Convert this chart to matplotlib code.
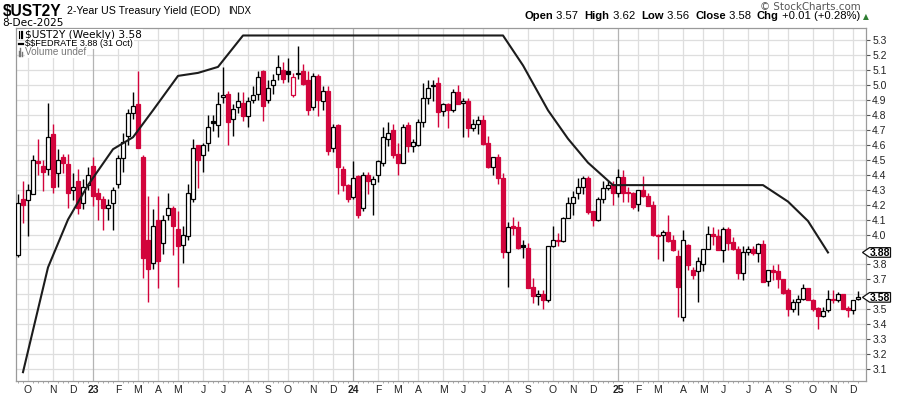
import datetime as dt
import numpy as np
import matplotlib
matplotlib.use('Agg')
import matplotlib.pyplot as plt
import matplotlib.transforms as mtransforms
from matplotlib.patches import Polygon
from matplotlib.offsetbox import TextArea, HPacker, AnchoredOffsetbox

plt.rcParams['font.family'] = ['Liberation Sans', 'DejaVu Sans']
plt.rcParams['text.parse_math'] = False

# ---------------- data ----------------
start_week = dt.date(2022, 9, 19)   # Monday of first weekly bar

opens = [3.86, 4.24, 4.23, 4.27, 4.49, 4.46, 4.44, 4.67, 4.41, 4.52,
         4.47, 4.30, 4.36, 4.21, 4.33, 4.46, 4.28, 4.24, 4.18, 4.21,
         4.34, 4.51, 4.66, 4.81, 4.87, 4.52, 3.96, 3.81, 4.10, 3.94,
         4.13, 4.18, 4.04, 3.93, 3.99, 4.24, 4.60, 4.53, 4.61, 4.76,
         4.73, 4.92, 4.94, 4.77, 4.85, 4.88, 4.79, 4.90, 4.94, 5.09,
         4.90, 5.00, 5.07, 5.10, 5.09, 4.93, 5.07, 5.09, 5.03, 4.85,
         5.06, 4.89, 4.96, 4.575, 4.73, 4.44, 4.33, 4.25, 4.39, 4.18,
         4.40, 4.34, 4.40, 4.48, 4.64, 4.70, 4.54, 4.48, 4.73, 4.59,
         4.60, 4.75, 4.91, 4.99, 5.01, 4.825, 4.87, 4.83, 4.95, 4.877,
         4.89, 4.71, 4.74, 4.765, 4.61, 4.45, 4.515, 4.38, 3.88, 4.055,
         4.05, 3.93, 3.91, 3.65, 3.59, 3.605, 3.56, 3.92, 3.96, 3.955,
         4.11, 4.21, 4.28, 4.32, 4.375, 4.155, 4.10, 4.24, 4.31, 4.33,
         4.28, 4.385, 4.28, 4.28, 4.205, 4.295, 4.255, 4.195, 4.00, 3.995,
         4.02, 3.96, 3.855, 3.45, 3.93, 3.76, 3.755, 3.80, 3.90, 4.005,
         3.99, 3.895, 4.035, 3.95, 3.905, 3.74, 3.88, 3.90, 3.875, 3.935,
         3.69, 3.76, 3.755, 3.70, 3.63, 3.505, 3.55, 3.57, 3.64, 3.565,
         3.51, 3.458, 3.495, 3.57, 3.565, 3.60, 3.51, 3.495, 3.57]
highs = [4.27, 4.36, 4.34, 4.53, 4.64, 4.50, 4.88, 4.74, 4.57, 4.54,
         4.54, 4.41, 4.44, 4.37, 4.45, 4.52, 4.31, 4.26, 4.24, 4.32,
         4.53, 4.68, 4.84, 4.95, 5.09, 4.53, 4.26, 4.17, 4.26, 4.13,
         4.28, 4.19, 4.16, 4.06, 4.34, 4.64, 4.60, 4.61, 4.80, 4.80,
         4.95, 5.12, 4.96, 4.87, 4.95, 4.95, 4.92, 4.99, 5.09, 5.10,
         5.03, 5.07, 5.20, 5.15, 5.18, 5.08, 5.26, 5.14, 5.09, 5.08,
         5.07, 4.99, 4.99, 4.74, 4.74, 4.46, 4.335, 4.49, 4.40, 4.42,
         4.42, 4.39, 4.50, 4.72, 4.75, 4.74, 4.61, 4.74, 4.75, 4.64,
         4.77, 5.01, 5.03, 5.03, 5.05, 4.88, 4.88, 4.97, 5.00, 4.91,
         4.91, 4.77, 4.79, 4.80, 4.66, 4.52, 4.54, 4.41, 4.085, 4.12,
         4.09, 3.96, 3.94, 3.71, 3.63, 3.63, 3.92, 4.06, 4.01, 4.12,
         4.25, 4.29, 4.375, 4.39, 4.39, 4.16, 4.25, 4.36, 4.36, 4.36,
         4.435, 4.43, 4.32, 4.285, 4.30, 4.39, 4.28, 4.225, 4.005, 4.03,
         4.13, 3.995, 3.895, 4.03, 3.935, 3.78, 3.85, 3.905, 4.06, 4.05,
         4.04, 4.05, 4.05, 3.985, 3.92, 3.92, 3.92, 3.92, 3.94, 3.965,
         3.765, 3.795, 3.805, 3.705, 3.64, 3.57, 3.595, 3.67, 3.645, 3.57,
         3.515, 3.515, 3.63, 3.63, 3.615, 3.605, 3.52, 3.565, 3.62]
lows = [3.85, 4.08, 3.99, 4.27, 4.40, 4.29, 4.40, 4.28, 4.32, 4.41,
        4.18, 4.23, 4.14, 4.17, 4.30, 4.19, 4.10, 4.03, 4.10, 4.03,
        4.31, 4.42, 4.60, 4.77, 4.58, 3.71, 3.55, 3.77, 3.64, 3.87,
        4.10, 3.86, 3.65, 3.81, 3.96, 4.22, 4.31, 4.42, 4.56, 4.69,
        4.65, 4.88, 4.60, 4.66, 4.81, 4.76, 4.72, 4.88, 4.90, 4.76,
        4.88, 4.94, 5.03, 5.01, 5.02, 4.92, 5.04, 5.00, 4.80, 4.83,
        4.79, 4.83, 4.53, 4.55, 4.27, 4.29, 4.22, 4.24, 4.11, 4.16,
        4.27, 4.13, 4.35, 4.46, 4.59, 4.51, 4.40, 4.48, 4.55, 4.55,
        4.59, 4.72, 4.87, 4.89, 4.72, 4.79, 4.71, 4.82, 4.87, 4.65,
        4.65, 4.69, 4.67, 4.60, 4.445, 4.40, 4.34, 3.84, 3.65, 4.00,
        3.90, 3.84, 3.64, 3.54, 3.53, 3.50, 3.55, 3.915, 3.92, 3.95,
        4.11, 4.13, 4.24, 4.27, 4.14, 4.06, 4.09, 4.21, 4.30, 4.20,
        4.25, 4.22, 4.22, 4.17, 4.16, 4.25, 4.19, 3.99, 3.835, 3.825,
        3.95, 3.89, 3.45, 3.42, 3.76, 3.705, 3.55, 3.755, 3.90, 3.93,
        3.895, 3.815, 3.895, 3.895, 3.70, 3.695, 3.86, 3.86, 3.815, 3.685,
        3.655, 3.695, 3.645, 3.605, 3.455, 3.485, 3.46, 3.56, 3.56, 3.49,
        3.37, 3.45, 3.48, 3.54, 3.55, 3.50, 3.45, 3.47, 3.56]
closes = [4.21, 4.20, 4.30, 4.50, 4.48, 4.42, 4.65, 4.32, 4.50, 4.48,
          4.28, 4.32, 4.18, 4.32, 4.40, 4.26, 4.24, 4.18, 4.20, 4.30,
          4.51, 4.62, 4.81, 4.86, 4.58, 3.84, 3.77, 4.06, 3.82, 4.10,
          4.18, 4.06, 3.92, 4.00, 4.28, 4.58, 4.50, 4.60, 4.72, 4.745,
          4.87, 4.93, 4.75, 4.84, 4.89, 4.79, 4.89, 4.93, 5.05, 4.86,
          4.98, 5.03, 5.12, 5.04, 5.075, 5.05, 5.08, 5.005, 4.83, 5.06,
          4.90, 4.96, 4.56, 4.72, 4.45, 4.33, 4.24, 4.38, 4.13, 4.40,
          4.36, 4.37, 4.49, 4.65, 4.68, 4.53, 4.48, 4.72, 4.59, 4.62,
          4.75, 4.91, 4.98, 5.00, 4.82, 4.87, 4.83, 4.95, 4.875, 4.89,
          4.71, 4.74, 4.765, 4.605, 4.45, 4.515, 4.38, 3.88, 4.05, 4.045,
          3.91, 3.915, 3.645, 3.59, 3.605, 3.56, 3.92, 3.96, 3.955, 4.11,
          4.21, 4.25, 4.32, 4.375, 4.15, 4.10, 4.24, 4.31, 4.33, 4.28,
          4.385, 4.28, 4.275, 4.185, 4.295, 4.255, 4.19, 3.995, 3.99, 4.02,
          3.955, 3.895, 3.65, 3.965, 3.795, 3.73, 3.82, 3.90, 4.005, 3.99,
          3.895, 4.035, 3.945, 3.905, 3.74, 3.885, 3.90, 3.875, 3.935, 3.685,
          3.76, 3.75, 3.70, 3.61, 3.505, 3.55, 3.57, 3.64, 3.565, 3.50,
          3.455, 3.49, 3.57, 3.56, 3.60, 3.505, 3.495, 3.56, 3.58]

# $$FEDRATE monthly values (month, value)
fed_months = ['2022-10', '2022-11', '2022-12', '2023-01', '2023-02', '2023-03',
              '2023-04', '2023-05', '2023-06', '2023-07', '2023-08', '2023-09',
              '2023-10', '2023-11', '2023-12', '2024-01', '2024-02', '2024-03',
              '2024-04', '2024-05', '2024-06', '2024-07', '2024-08', '2024-09',
              '2024-10', '2024-11', '2024-12', '2025-01', '2025-02', '2025-03',
              '2025-04', '2025-05', '2025-06', '2025-07', '2025-08', '2025-09',
              '2025-10', '2025-11']
fed_values = [3.08, 3.78, 4.10, 4.33, 4.57, 4.65, 4.83, 5.06, 5.08, 5.12,
              5.33, 5.33, 5.33, 5.33, 5.33, 5.33, 5.33, 5.33, 5.33, 5.33,
              5.33, 5.33, 5.33, 5.13, 4.83, 4.64, 4.48, 4.33, 4.33, 4.33,
              4.33, 4.33, 4.33, 4.33, 4.33, 4.22, 4.09, 3.88]

month_letters = ['J', 'F', 'M', 'A', 'M', 'J', 'J', 'A', 'S', 'O', 'N', 'D']
ytick_values = [3.1, 3.2, 3.3, 3.4, 3.5, 3.6, 3.7, 3.8, 3.9, 4.0, 4.1, 4.2,
                4.3, 4.4, 4.5, 4.6, 4.7, 4.8, 4.9, 5.0, 5.1, 5.2, 5.3]

# ---------------- derived ----------------
O = np.array(opens); H = np.array(highs); L = np.array(lows); C = np.array(closes)
n = len(C)
x = np.arange(n)
prev = np.r_[O[0], C[:-1]]
RED = '#D2043C'
cols = np.where(C >= prev, '#000000', RED)
filled = C < O
faces = [c if f else 'white' for c, f in zip(cols, filled)]
bottoms = np.minimum(O, C)
heights = np.maximum(np.abs(C - O), 0.006)


def week_index(d):
    return ((d - start_week).days + 1) // 7


fed_x = []
for m in fed_months:
    y_, mo = map(int, m.split('-'))
    d = dt.date(y_, mo, 1) - dt.timedelta(days=1)
    fed_x.append(week_index(d))

# month gridlines: first Monday of each month
mpos, mlab, myear = [], [], []
y_, mo = 2022, 10
while (y_, mo) <= (2025, 12):
    d = dt.date(y_, mo, 1)
    while d.weekday() != 0:
        d += dt.timedelta(days=1)
    mpos.append((d - start_week).days // 7)
    if mo == 1:
        mlab.append(str(y_)[2:]); myear.append(True)
    else:
        mlab.append(month_letters[mo - 1]); myear.append(False)
    mo += 1
    if mo > 12:
        mo = 1; y_ += 1

# ---------------- figure ----------------
W, Hh = 900, 396
fig = plt.figure(figsize=(W / 100, Hh / 100), dpi=100)
ax = fig.add_axes([16 / W, 15 / Hh, 850 / W, 353 / Hh])
ax.set_xlim(-0.4, n + 0.6)
ax.set_ylim(3.021, 5.380)

# grid
for v in ytick_values:
    ax.axhline(v, color='#dedede', lw=0.9, zorder=0)
for p, yr in zip(mpos, myear):
    ax.axvline(p, color='#b4b4b4' if yr else '#dedede', lw=0.9, zorder=0)

# candles
ax.vlines(x, L, H, colors=cols, lw=1.0, zorder=2)
ax.bar(x, heights, bottom=bottoms, width=0.7, color=faces, edgecolor=cols,
       linewidth=0.9, zorder=3)

# fed rate line
ax.plot(fed_x, fed_values, color='#1c1c1c', lw=1.5, zorder=4,
        solid_joinstyle='round')

# axes styling
for s in ax.spines.values():
    s.set_color('#9a9a9a'); s.set_linewidth(0.9)
ax.yaxis.tick_right()
ax.set_yticks([v for v in ytick_values])
ax.set_yticklabels(['' if abs(v - 3.6) < 1e-6 or abs(v - 3.9) < 1e-6 else f'{v:.1f}'
                    for v in ytick_values])
ax.tick_params(axis='y', which='major', length=3, width=0.8, color='#555555',
               labelsize=7.5, pad=1.5, labelcolor='#222222')
ax.set_xticks(mpos)
ax.set_xticklabels(mlab)
for lab, yr in zip(ax.get_xticklabels(), myear):
    if yr:
        lab.set_fontweight('bold'); lab.set_fontsize(8.5)
ax.tick_params(axis='x', which='major', length=0, labelsize=7.5, pad=3,
               labelcolor='#222222')
ax.set_xticks(x, minor=True)
ax.tick_params(axis='x', which='minor', length=1.5, width=0.6, color='#9a9a9a')

# value tags on the right axis
def tag(v, label):
    tr = fig.dpi_scale_trans + mtransforms.ScaledTranslation(
        1.0, v, ax.get_yaxis_transform())
    poly = Polygon([(-0.035, 0), (0.035, 0.048), (0.245, 0.048),
                    (0.245, -0.048), (0.035, -0.048)], closed=True,
                   facecolor='white', edgecolor='#111111', lw=0.9,
                   transform=tr, clip_on=False, zorder=10)
    fig.add_artist(poly)
    tr2 = fig.dpi_scale_trans + mtransforms.ScaledTranslation(
        1.0, v, ax.get_yaxis_transform())
    fig.text(0.14, -0.005, label, transform=tr2, ha='center', va='center',
             fontsize=7.5, fontweight='bold', color='#000000', zorder=11)

tag(fed_values[-1], f'{fed_values[-1]:.2f}')
tag(closes[-1], f'{closes[-1]:.2f}')

# legend block (top-left inside plot)
leg_tr = ax.transAxes
ax.text(0.011, 0.981, '$UST2Y (Weekly) 3.58', transform=leg_tr, fontsize=7.6,
        family='DejaVu Sans', va='center', ha='left', zorder=6,
        bbox=dict(facecolor='white', edgecolor='none', pad=0.3))
ax.text(0.011, 0.955, '$$FEDRATE 3.88 (31 Oct)', transform=leg_tr, fontsize=6.6,
        va='center', ha='left', zorder=6,
        bbox=dict(facecolor='white', edgecolor='none', pad=0.3))
ax.text(0.011, 0.931, 'Volume undef', transform=leg_tr, fontsize=7.2,
        color='#777777', va='center', ha='left', zorder=6,
        bbox=dict(facecolor='white', edgecolor='none', pad=0.3))
# legend icons
ax.plot([0.0035, 0.0035], [0.971, 0.991], transform=leg_tr, color='black', lw=0.8, zorder=7, clip_on=False)
ax.plot([0.0065, 0.0065], [0.973, 0.989], transform=leg_tr, color='black', lw=1.6, zorder=7, clip_on=False)
ax.plot([0.003, 0.0085], [0.955, 0.955], transform=leg_tr, color='black', lw=1.6, zorder=7)
for xi, hh in [(0.003, 0.014), (0.005, 0.02), (0.007, 0.01)]:
    ax.plot([xi, xi], [0.922, 0.922 + hh], transform=leg_tr, color='#777777', lw=1.0, zorder=7)

# titles
fig.text(3 / W, 1 - 11 / Hh, '$UST2Y', fontsize=11.2, fontweight='bold', va='center', ha='left')
fig.text(67 / W, 1 - 11 / Hh, '2-Year US Treasury Yield (EOD)', fontsize=7.7, va='center', ha='left')
fig.text(228 / W, 1 - 11 / Hh, 'INDX', fontsize=7, va='center', ha='left')
fig.text(2 / W, 1 - 23 / Hh, '8-Dec-2025', fontsize=7.6, family='DejaVu Sans', va='center', ha='left')
fig.text(861 / W, 1 - 7 / Hh, '\u00a9 StockCharts.com', fontsize=7.4, color='#555555',
         family='DejaVu Sans', va='center', ha='right')

pieces = [('Open', 'bold'), (' 3.57  ', 'normal'), ('High', 'bold'), (' 3.62  ', 'normal'),
          ('Low', 'bold'), (' 3.56  ', 'normal'), ('Close', 'bold'), (' 3.58  ', 'normal'),
          ('Chg', 'bold'), (' +0.01 (+0.28%) ', 'normal')]
areas = [TextArea(t, textprops=dict(fontsize=8.1, fontweight=w, color='black')) for t, w in pieces]
areas.append(TextArea('\u25b2', textprops=dict(fontsize=5.5, color='#2e7d32', family='DejaVu Sans')))
hp = HPacker(children=areas, align='baseline', pad=0, sep=0)
ab = AnchoredOffsetbox(loc='center right', child=hp, pad=0, borderpad=0, frameon=False,
                       bbox_to_anchor=(869 / W, 1 - 16 / Hh), bbox_transform=fig.transFigure)
fig.add_artist(ab)

fig.savefig('out.png', dpi=100)
